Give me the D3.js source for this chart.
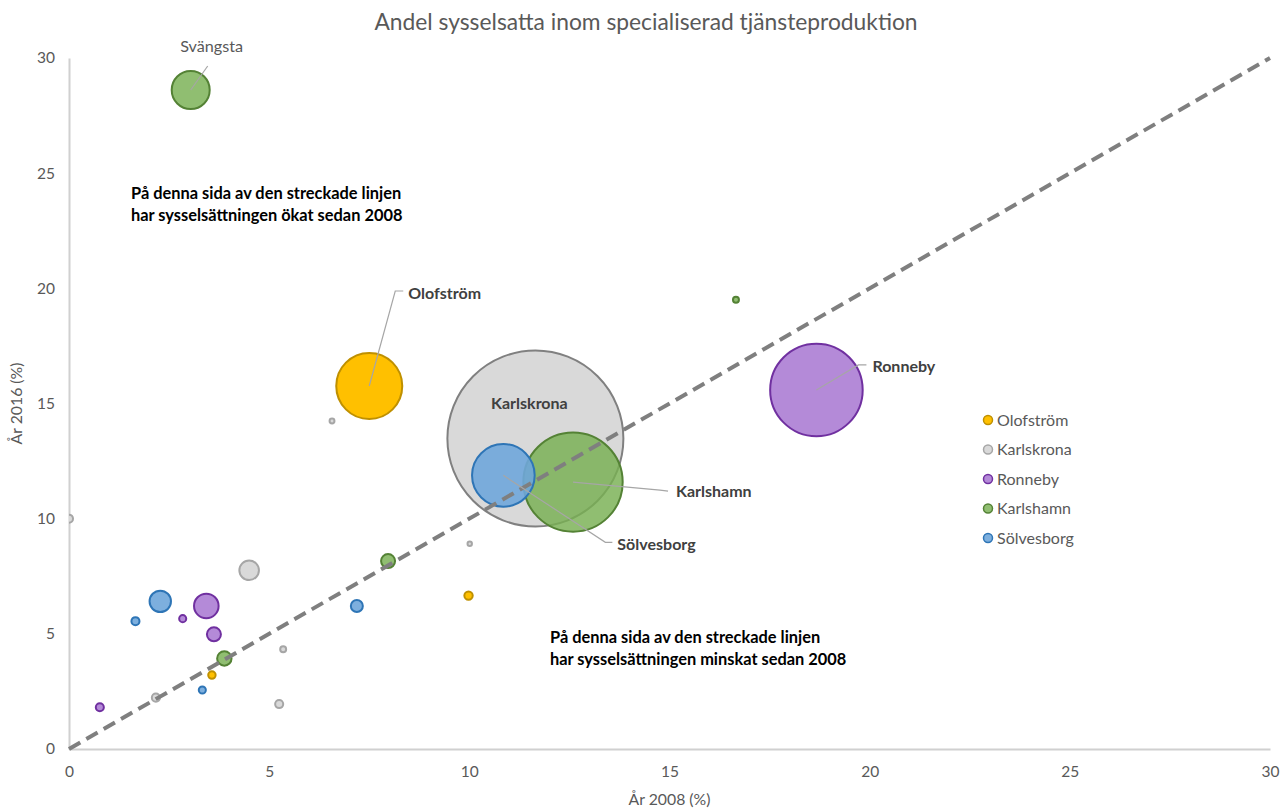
<!DOCTYPE html>
<html>
<head>
<meta charset="utf-8">
<script src="https://cdn.jsdelivr.net/npm/d3@7"></script>
<style>
  html, body { margin: 0; padding: 0; background: #fff; }
  svg { display: block; font-family: Lato, "Open Sans", sans-serif; }
</style>
</head>
<body>
<svg id="chart" width="1282" height="809"></svg>
<script>
// Share of employed in specialised service production, 2008 vs 2016 (%)
// Each point: [share 2008, share 2016, size (employed, relative)]
const seriesNames = ["Olofström", "Karlskrona", "Ronneby", "Karlshamn", "Sölvesborg"];

const olofstrom = [
  [7.50, 15.76, 14.6],
  [9.98, 6.66, 0.34],
  [3.57, 3.21, 0.28]
];
const karlskrona = [
  [11.65, 13.48, 100],
  [6.57, 14.24, 0.15],
  [0.00, 10.00, 0.32],
  [4.50, 7.76, 1.47],
  [10.01, 8.91, 0.13],
  [5.35, 4.33, 0.20],
  [2.17, 2.23, 0.32],
  [5.25, 1.95, 0.32]
];
const ronneby = [
  [18.67, 15.59, 28.2],
  [3.43, 6.21, 2.23],
  [3.62, 4.98, 0.81],
  [2.84, 5.66, 0.26],
  [0.77, 1.81, 0.32]
];
const karlshamn = [
  [12.59, 11.59, 32.4],
  [3.04, 28.61, 5.05],
  [7.97, 8.16, 0.81],
  [3.88, 3.93, 0.85],
  [16.66, 19.50, 0.20]
];
const solvesborg = [
  [10.85, 11.88, 13.2],
  [2.28, 6.41, 1.73],
  [1.66, 5.55, 0.32],
  [7.19, 6.21, 0.62],
  [3.33, 2.56, 0.26]
];
const seriesPoints = [olofstrom, karlskrona, ronneby, karlshamn, solvesborg];

const xTicks = [0, 5, 10, 15, 20, 25, 30];
const yTicks = [0, 5, 10, 15, 20, 25, 30];

// Named bubbles: [series index, point index, text, bold]
const pointLabels = [
  [0, 0, "Olofström", true],
  [1, 0, "Karlskrona", true],
  [2, 0, "Ronneby", true],
  [3, 0, "Karlshamn", true],
  [4, 0, "Sölvesborg", true],
  [3, 1, "Svängsta", false]
];

const noteAbove = ["På denna sida av den streckade linjen", "har sysselsättningen ökat sedan 2008"];
const noteBelow = ["På denna sida av den streckade linjen", "har sysselsättningen minskat sedan 2008"];

// ---- styling ----
const fills   = ["#FFC000", "#D9D9D9", "#B48AD8", "#78B052", "#6FA6DA"];
const strokes = ["#BF9000", "#A6A6A6", "#7030A0", "#548235", "#2E75B6"];
const fillOpacity = [1, 1, 1, 0.82, 0.9];

const svg = d3.select("#chart");
const margin = { left: 69, top: 58, right: 12, bottom: 60 };
const W = 1282, H = 809;
const plotW = W - margin.left - margin.right;
const plotH = H - margin.top - margin.bottom;

const x = d3.scaleLinear().domain([0, 30]).range([margin.left, margin.left + plotW]);
const y = d3.scaleLinear().domain([0, 30]).range([margin.top + plotH, margin.top]);
const r = d3.scaleSqrt().domain([0, 100]).range([0, 89]);

svg.append("defs").append("clipPath").attr("id", "plotClip")
  .append("rect")
  .attr("x", x(0)).attr("y", 0)
  .attr("width", plotW + margin.right).attr("height", y(0));

// Title
svg.append("text")
  .attr("x", 646).attr("y", 30)
  .attr("text-anchor", "middle")
  .attr("font-size", 22.8)
  .attr("fill", "#595959")
  .text("Andel sysselsatta inom specialiserad tjänsteproduktion");

// Axes
const xAxis = svg.append("g")
  .attr("transform", `translate(0,${y(0)})`)
  .call(d3.axisBottom(x).tickValues(xTicks).tickSize(0).tickPadding(17));
const yAxis = svg.append("g")
  .attr("transform", `translate(${x(0)},0)`)
  .call(d3.axisLeft(y).tickValues(yTicks).tickSize(0).tickPadding(14));
[xAxis, yAxis].forEach(g => {
  g.select(".domain").attr("stroke", "#D0D0D0").attr("stroke-width", 2);
  g.selectAll("text").attr("fill", "#595959").attr("font-size", 15.5)
    .attr("font-family", "Lato, sans-serif");
});

svg.append("text")
  .attr("x", x(15)).attr("y", 805)
  .attr("text-anchor", "middle").attr("font-size", 15.8).attr("fill", "#595959")
  .text("År 2008 (%)");
svg.append("text")
  .attr("transform", `translate(22,${y(15)}) rotate(-90)`)
  .attr("text-anchor", "middle").attr("font-size", 15.8).attr("fill", "#595959")
  .text("År 2016 (%)");

// Bubbles
const plot = svg.append("g").attr("clip-path", "url(#plotClip)");
seriesPoints.forEach((pts, si) => {
  const sorted = pts.map((p, i) => ({ p, i })).sort((a, b) => b.p[2] - a.p[2]);
  plot.append("g").selectAll("circle").data(sorted).join("circle")
    .attr("cx", d => x(d.p[0]))
    .attr("cy", d => y(d.p[1]))
    .attr("r", d => Math.max(r(d.p[2]) - 1, 1))
    .attr("fill", fills[si])
    .attr("fill-opacity", fillOpacity[si])
    .attr("stroke", d => (si === 1 && d.p[2] >= 50) ? "#808080" : strokes[si])
    .attr("stroke-width", 2);
});

// Equal-share diagonal
svg.append("line")
  .attr("x1", x(0)).attr("y1", y(0))
  .attr("x2", x(30)).attr("y2", y(30))
  .attr("stroke", "#7F7F7F").attr("stroke-width", 4)
  .attr("stroke-dasharray", "13,7");

// Bubble labels with leader lines (offsets in px from bubble centre)
const labelLayout = {
  "Olofström":  { dx: 39,  dy: -87, anchor: "start",  leader: [[26, -95], [34, -95]] },
  "Karlskrona": { dx: -6,  dy: -30, anchor: "middle", leader: null },
  "Ronneby":    { dx: 56,  dy: -18, anchor: "start",  leader: [[42, -25], [50, -25]] },
  "Karlshamn":  { dx: 103, dy: 15,  anchor: "start",  leader: [[87, 8], [95, 9]] },
  "Sölvesborg": { dx: 114, dy: 75,  anchor: "start",  leader: [[102, 67], [109, 67]] },
  "Svängsta":   { dx: 21,  dy: -38, anchor: "middle", leader: [[17, -24]] }
};
const labelG = svg.append("g");
pointLabels.forEach(([si, pi, txt, bold]) => {
  const p = seriesPoints[si][pi];
  const cx = x(p[0]), cy = y(p[1]);
  const L = labelLayout[txt];
  if (L.leader) {
    const pts = [[cx, cy]].concat(L.leader.map(([a, b]) => [cx + a, cy + b]));
    labelG.append("path")
      .attr("d", d3.line()(pts))
      .attr("fill", "none").attr("stroke", "#A6A6A6").attr("stroke-width", 1.2);
  }
  labelG.append("text")
    .attr("x", cx + L.dx).attr("y", cy + L.dy)
    .attr("text-anchor", L.anchor)
    .attr("font-size", bold ? 16 : 16.2)
    .attr("font-weight", bold ? 700 : 400)
    .attr("fill", bold ? "#404040" : "#595959")
    .text(txt);
});

// Explanatory notes on each side of the diagonal
function note(lines, px, py) {
  const t = svg.append("text").attr("x", px).attr("y", py)
    .attr("font-size", 16.4).attr("font-weight", 700).attr("fill", "#000");
  lines.forEach((s, i) => t.append("tspan").attr("x", px).attr("dy", i ? 22 : 0).text(s));
}
note(noteAbove, 131, 199);
note(noteBelow, 550, 643);

// Legend
const legend = svg.append("g").attr("transform", "translate(988,420)");
seriesNames.forEach((name, i) => {
  const g = legend.append("g").attr("transform", `translate(0,${i * 29.5})`);
  g.append("circle").attr("r", 4.5)
    .attr("fill", fills[i]).attr("fill-opacity", fillOpacity[i])
    .attr("stroke", strokes[i]).attr("stroke-width", 1.5);
  g.append("text").attr("x", 9).attr("y", 5.5)
    .attr("font-size", 16).attr("fill", "#595959").text(name);
});
</script>
</body>
</html>
